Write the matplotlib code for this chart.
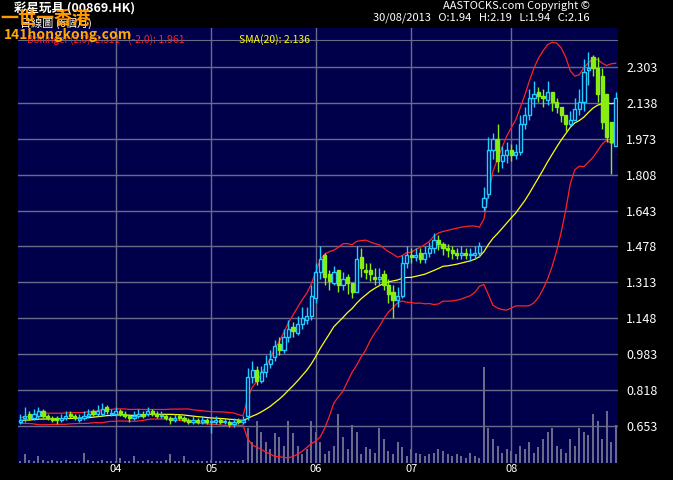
import matplotlib
matplotlib.use("Agg")
import matplotlib.pyplot as plt
import numpy as np
import pandas as pd

plt.rcParams['font.family'] = ['Noto Sans CJK TC', 'DejaVu Sans']

prehist = [0.67,0.68,0.67,0.68,0.69,0.68,0.67,0.68,0.69,0.68,0.67,0.68,0.68,0.69,0.68,0.67,0.68,0.68,0.67]
closes = [0.68,0.70,0.69,0.71,0.72,0.70,0.69,0.68,0.68,0.69,0.70,0.70,0.69,0.69,0.70,0.71,0.71,0.72,0.73,0.72,0.71,
          0.72,0.71,0.70,0.69,0.70,0.71,0.70,0.72,0.71,0.70,0.70,0.69,0.68,0.69,0.69,0.68,0.67,0.68,0.67,0.68,
          0.67,0.67,0.68,0.67,0.67,0.66,0.67,0.67,0.68,
          0.88,0.91,0.86,0.90,0.94,0.96,1.02,1.00,1.06,1.10,1.09,1.12,1.15,1.16,1.25,1.36,
          1.42,1.34,1.32,1.36,1.30,1.33,1.31,1.27,1.42,1.38,1.36,1.35,1.33,1.34,1.30,1.26,1.23,1.25,1.40,1.44,
          1.43,1.44,1.42,1.45,1.47,1.51,1.49,1.47,1.46,1.45,1.44,1.45,1.44,1.44,1.45,1.48,1.70,1.92,1.97,1.87,1.90,1.92,1.90,
          1.91,2.04,2.08,2.16,2.18,2.17,2.16,2.19,2.14,2.12,2.08,2.04,2.06,2.11,2.14,2.28,2.30,2.30,2.18,2.05,1.98,1.96,2.16]
opens = [0.67,0.69,0.71,0.69,0.70,0.72,0.70,0.69,0.69,0.68,0.69,0.71,0.70,0.68,0.69,0.70,0.72,0.71,0.71,0.74,0.71,
         0.71,0.72,0.71,0.70,0.69,0.70,0.71,0.71,0.72,0.71,0.70,0.70,0.69,0.68,0.70,0.69,0.68,0.67,0.68,0.67,
         0.68,0.67,0.67,0.68,0.67,0.67,0.66,0.68,0.67,
         0.70,0.88,0.91,0.86,0.90,0.94,0.97,1.03,1.00,1.06,1.11,1.08,1.12,1.14,1.16,1.24,
         1.36,1.44,1.35,1.31,1.37,1.30,1.34,1.31,1.27,1.43,1.37,1.37,1.34,1.33,1.35,1.30,1.27,1.23,1.25,1.40,
         1.44,1.43,1.45,1.42,1.45,1.47,1.51,1.49,1.47,1.46,1.45,1.44,1.45,1.44,1.44,1.45,1.66,1.72,1.92,1.97,1.87,1.90,1.92,
         1.90,1.91,2.04,2.08,2.16,2.19,2.17,2.15,2.19,2.14,2.12,2.08,2.04,2.06,2.11,2.14,2.29,2.35,2.30,2.26,2.18,2.05,1.94]
highs = [0.71,0.74,0.72,0.73,0.74,0.73,0.71,0.70,0.70,0.71,0.72,0.72,0.71,0.71,0.72,0.73,0.73,0.75,0.76,0.75,0.73,
         0.74,0.73,0.72,0.71,0.72,0.73,0.72,0.74,0.73,0.72,0.72,0.71,0.70,0.71,0.71,0.70,0.69,0.70,0.69,0.70,
         0.69,0.69,0.70,0.69,0.69,0.68,0.69,0.69,0.70,
         0.92,0.95,0.93,0.93,0.98,1.00,1.05,1.06,1.10,1.14,1.13,1.16,1.20,1.20,1.30,1.40,
         1.48,1.45,1.37,1.39,1.36,1.36,1.35,1.31,1.48,1.47,1.40,1.40,1.38,1.38,1.37,1.33,1.30,1.29,1.44,1.48,
         1.47,1.47,1.47,1.48,1.50,1.54,1.53,1.50,1.49,1.48,1.47,1.48,1.47,1.47,1.48,1.50,1.75,1.98,2.00,2.04,1.94,1.96,1.95,
         1.95,2.08,2.12,2.20,2.24,2.21,2.20,2.24,2.18,2.16,2.12,2.08,2.10,2.16,2.20,2.34,2.37,2.36,2.35,2.30,2.12,2.04,2.19]
lows = [0.66,0.67,0.68,0.68,0.69,0.69,0.68,0.67,0.66,0.67,0.68,0.69,0.68,0.67,0.68,0.69,0.70,0.70,0.70,0.71,0.70,
        0.70,0.70,0.69,0.67,0.68,0.69,0.69,0.70,0.70,0.69,0.69,0.68,0.66,0.67,0.68,0.67,0.66,0.66,0.66,0.66,
        0.66,0.62,0.66,0.66,0.66,0.65,0.65,0.66,0.66,
        0.68,0.85,0.84,0.85,0.88,0.92,0.95,0.98,0.99,1.04,1.06,1.07,1.10,1.12,1.14,1.22,
        1.33,1.30,1.28,1.30,1.27,1.28,1.26,1.24,1.37,1.34,1.33,1.32,1.30,1.30,1.28,1.22,1.15,1.20,1.24,1.38,
        1.40,1.41,1.40,1.40,1.43,1.45,1.46,1.44,1.43,1.42,1.42,1.42,1.42,1.41,1.42,1.43,1.64,1.70,1.88,1.82,1.84,1.86,1.87,
        1.88,1.90,2.02,2.06,2.12,2.14,2.12,2.13,2.10,2.09,2.05,2.01,2.03,2.06,2.08,2.10,2.22,2.26,2.14,2.02,1.96,1.81,1.94]
volumes = [1,5,2,1,4,2,1,2,1,1,2,1,1,1,6,2,1,1,2,1,1,
           1,3,1,1,4,1,1,2,1,1,1,2,5,1,1,4,1,1,1,1,
           1,2,1,1,1,1,1,1,2,
           20,12,24,18,12,8,17,15,10,24,17,10,5,8,24,18,
           12,5,7,10,28,15,8,22,18,5,9,8,6,20,14,7,5,12,9,4,
           8,6,5,4,5,6,8,7,5,4,5,4,3,6,4,3,55,20,14,10,6,8,7,
           5,10,8,12,6,9,14,18,20,10,8,6,14,10,20,18,16,28,24,14,30,12,22]
month_labels = ["04", "05", "06", "07", "08"]
month_idx = [21, 42, 65, 86, 108]
y_ticks = [0.653, 0.818, 0.983, 1.148, 1.313, 1.478, 1.643, 1.808, 1.973, 2.138, 2.303]

n = min(len(closes), len(opens), len(highs), len(lows), len(volumes))
allc = pd.Series(prehist + closes[:n])
sma = allc.rolling(20).mean().values[len(prehist):]
sd = allc.rolling(20).std(ddof=0).values[len(prehist):]
upper = sma + 2 * sd
lower = sma - 2 * sd
x = np.arange(n)

fig = plt.figure(figsize=(6.73, 4.80), dpi=100, facecolor='black')
ax = fig.add_axes([18/673, 17/480, 600/673, 435/480])
axv = ax.twinx()
axv.set_zorder(0); ax.set_zorder(1); ax.patch.set_visible(False)
axv.patch.set_facecolor('#00004a'); axv.patch.set_visible(True)
axv.bar(x, volumes[:n], width=0.45, color='#6a6a88')
axv.set_ylim(0, max(volumes) / 0.22)
axv.set_yticks([])

for i in range(n):
    o, c, h, l = opens[i], closes[i], highs[i], lows[i]
    if c >= o:
        col = '#22ccff'
        ax.vlines(i, l, h, color=col, lw=1, zorder=3)
        ax.add_patch(plt.Rectangle((i - 0.35, o), 0.7, max(c - o, 0.004), facecolor='#00004a', edgecolor=col, lw=1, zorder=4))
    else:
        col = '#88ee11'
        ax.vlines(i, l, h, color=col, lw=1, zorder=3)
        ax.add_patch(plt.Rectangle((i - 0.35, c), 0.7, o - c, facecolor=col, edgecolor=col, lw=1, zorder=4))

ax.plot(x, upper, color='#ff2222', lw=0.9, zorder=2)
ax.plot(x, lower, color='#ff2222', lw=0.9, zorder=2)
ax.plot(x, sma, color='#ffff00', lw=0.9, zorder=2)

ax.set_xlim(-0.5, n - 0.5)
ax.set_ylim(0.483, 2.482)
ax.yaxis.tick_right()
ax.set_yticks(y_ticks)
ax.set_yticklabels([f"{v:.3f}" for v in y_ticks], color='white', fontsize=9)
ax.set_xticks(month_idx)
ax.set_xticklabels(month_labels, color='white', fontsize=8)
ax.tick_params(axis='y', length=0, pad=6)
ax.tick_params(axis='x', length=0, pad=1)
ax.grid(True, color='#6a6a8a', lw=1)
ax.set_axisbelow(True)
for s in list(ax.spines.values()) + list(axv.spines.values()):
    s.set_visible(False)

ax.axhline(2.482 - 12*0.0046, color='#6a6a8a', lw=0.8)
ax.text(0.015, 0.985, "Bollinger (2.0): 2.311", color='#ff2222', fontsize=7, transform=ax.transAxes, va='top', zorder=6)
ax.text(0.183, 0.985, "(-2.0): 1.961", color='#ff2222', fontsize=7.5, transform=ax.transAxes, va='top', zorder=6)
ax.text(0.368, 0.985, "SMA(20): 2.136", color='#ffff00', fontsize=7.5, transform=ax.transAxes, va='top', zorder=6)

fig.text(14/673, 1 - 9/480, "彩星玩具 (00869.HK)", color='white', fontsize=9, fontweight='bold', va='center')
fig.text(20/673, 1 - 23/480, "日線圖 (6個月)", color='white', fontsize=8, va='center')
fig.text(0/673, 1 - 18/480, "一世一香港", color='#ff9900', fontsize=13, fontweight='bold', va='center', zorder=10)
fig.text(4/673, 1 - 35/480, "141hongkong.com", color='#ffaa00', fontsize=10, fontweight='bold', va='center', zorder=10)
fig.text(443/673, 1 - 6/480, "AASTOCKS.com Copyright ©", color='white', fontsize=8, va='center')
fig.text(373/673, 1 - 18/480, "30/08/2013   O:1.94   H:2.19   L:1.94   C:2.16", color='white', fontsize=8, va='center')

fig.savefig("out.png", dpi=100, facecolor='black')
